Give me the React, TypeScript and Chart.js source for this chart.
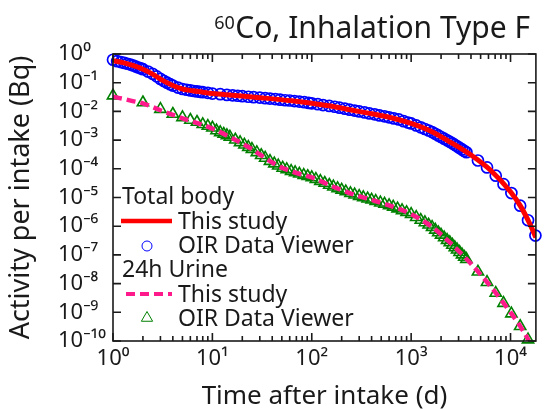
import React, { useEffect, useRef } from 'react';
import { Chart, registerables } from 'chart.js';

Chart.register(...registerables);

const FONT = '"Noto Sans", "Open Sans", sans-serif';
const TEXT = '#1a1a1a';
const RED = '#ff0000';
const BLUE = '#0000ff';
const PINK = '#ff1a8c';
const GREEN = 'rgb(0,128,0)';

// ---- Data (days after intake, activity per intake in Bq) ----
const bodyLineDays = [1, 1.26, 1.58, 2, 2.5, 3.16, 4, 5, 6.3, 8, 10, 16, 32, 63, 100, 160, 250, 400, 630, 1000, 1600, 2500, 4000, 6300, 10000, 12600, 15800, 18000];
const bodyLineValues = [0.589, 0.501, 0.398, 0.295, 0.2, 0.12, 0.0794, 0.0603, 0.0525, 0.0468, 0.0417, 0.0363, 0.0295, 0.0234, 0.0191, 0.0151, 0.0112, 0.00832, 0.00603, 0.0038, 0.002, 0.000832, 0.000302, 8.9e-5, 1.58e-5, 5.0e-6, 1.12e-6, 4.0e-7];

const bodyOirDays = [1, 1.1, 1.2, 1.3, 1.4, 1.5, 1.6, 1.7, 1.8, 1.9, 2, 2.25, 2.5, 2.75, 3, 3.25, 3.5, 3.75, 4, 4.5, 5, 5.5, 6, 6.5, 7, 7.5, 8, 9, 10, 12, 14, 16, 18, 20, 23, 26, 30, 34, 38, 43, 48, 54, 60, 67, 75, 84, 93, 100, 115, 130, 150, 170, 190, 215, 240, 270, 300, 340, 380, 430, 480, 540, 600, 670, 750, 840, 930, 1000, 1125, 1250, 1375, 1500, 1625, 1750, 1875, 2000, 2150, 2300, 2450, 2600, 2750, 2900, 3075, 3250, 3425, 3600, 4700, 5800, 7100, 8500, 10200, 12500, 15000, 17800];
const bodyOirValues = [0.631, 0.562, 0.525, 0.49, 0.457, 0.427, 0.398, 0.363, 0.339, 0.316, 0.295, 0.245, 0.204, 0.166, 0.135, 0.115, 0.1, 0.0891, 0.0794, 0.0676, 0.0603, 0.0569, 0.0537, 0.0513, 0.0495, 0.0479, 0.0468, 0.0442, 0.0417, 0.0398, 0.0376, 0.0363, 0.0351, 0.0339, 0.0324, 0.0313, 0.0302, 0.0288, 0.0279, 0.0269, 0.0257, 0.0245, 0.024, 0.0229, 0.0219, 0.0209, 0.0197, 0.0191, 0.0178, 0.0166, 0.0155, 0.0145, 0.0135, 0.0124, 0.0115, 0.0107, 0.01, 0.00923, 0.00851, 0.00794, 0.00724, 0.00676, 0.00624, 0.00569, 0.00525, 0.00457, 0.00407, 0.0038, 0.00324, 0.00278, 0.00244, 0.00216, 0.0019, 0.00165, 0.00145, 0.00128, 0.00112, 0.000982, 0.000873, 0.000771, 0.000682, 0.000608, 0.000532, 0.000472, 0.00042, 0.000378, 0.000195, 0.000112, 5.74e-5, 2.92e-5, 1.43e-5, 5.19e-6, 1.61e-6, 4.73e-7];

const urineLineDays = [1, 1.26, 1.58, 2, 2.95, 4, 5, 7.2, 10, 15.8, 20, 25, 31.6, 40, 50, 63, 79, 100, 158, 251, 398, 631, 1000, 1585, 2512, 3981, 6310, 10000, 12590, 15140, 16600];
const urineLineValues = [0.0324, 0.0275, 0.0229, 0.0191, 0.0112, 0.00759, 0.00575, 0.0038, 0.00251, 0.00117, 0.000759, 0.000479, 0.000282, 0.000166, 0.00011, 8.1e-5, 6.3e-5, 5.0e-5, 2.51e-5, 1.35e-5, 8.3e-6, 5.0e-6, 2.63e-6, 1.0e-6, 2.51e-7, 5.0e-8, 7.9e-9, 1.0e-9, 3.16e-10, 1.07e-10, 5.0e-11];

const urineOirDays = [1, 2, 3, 4, 5, 6, 7, 8, 9, 10, 11, 12, 13, 14, 15, 17, 19, 21, 23, 25, 28, 31, 34, 38, 42, 46, 51, 56, 62, 68, 75, 83, 91, 100, 110, 122, 135, 150, 165, 182, 200, 220, 245, 270, 300, 330, 365, 400, 440, 490, 540, 600, 660, 730, 810, 900, 1000, 1125, 1250, 1375, 1500, 1625, 1750, 1875, 2000, 2150, 2300, 2450, 2600, 2750, 2900, 3075, 3250, 3425, 3600, 4700, 5800, 7100, 8500, 10200, 12500, 15000];
const urineOirValues = [0.0355, 0.0204, 0.012, 0.00813, 0.00617, 0.00501, 0.00427, 0.00355, 0.00309, 0.00269, 0.00215, 0.00186, 0.00163, 0.00145, 0.00129, 0.00103, 0.000832, 0.000686, 0.00057, 0.000483, 0.000373, 0.000296, 0.000239, 0.000185, 0.000151, 0.000128, 0.000107, 9.5e-5, 8.3e-5, 7.5e-5, 6.7e-5, 6.0e-5, 5.5e-5, 5.0e-5, 4.35e-5, 3.72e-5, 3.2e-5, 2.73e-5, 2.38e-5, 2.08e-5, 1.84e-5, 1.61e-5, 1.4e-5, 1.25e-5, 1.12e-5, 1.01e-5, 9.1e-6, 8.3e-6, 7.5e-6, 6.6e-6, 5.96e-6, 5.3e-6, 4.7e-6, 4.09e-6, 3.54e-6, 3.05e-6, 2.63e-6, 2.06e-6, 1.64e-6, 1.35e-6, 1.12e-6, 9.27e-7, 7.43e-7, 6.04e-7, 4.98e-7, 4.02e-7, 3.27e-7, 2.71e-7, 2.22e-7, 1.83e-7, 1.52e-7, 1.24e-7, 1.02e-7, 8.46e-8, 7.14e-8, 2.58e-8, 1.12e-8, 4.68e-9, 2.09e-9, 9.0e-10, 3.27e-10, 1.12e-10];

const xTickValues = [1, 10, 100, 1000, 10000];
const yTickValues = [1e-10, 1e-9, 1e-8, 1e-7, 1e-6, 1e-5, 1e-4, 1e-3, 1e-2, 1e-1, 1];
const xMin = 1;
const xMax = 18000;
const yMin = 1e-10;
const yMax = 1;

const titleMain = 'Co, Inhalation Type F';
const titleSup = '60';
const xTitle = 'Time after intake (d)';
const yTitle = 'Activity per intake (Bq)';
const legendGroup1 = 'Total body';
const legendGroup2 = '24h Urine';
const legendLine = 'This study';
const legendOir = 'OIR Data Viewer';

const SUP: Record<string, string> = {
  '0': '\u2070', '1': '\u00b9', '2': '\u00b2', '3': '\u00b3', '4': '\u2074',
  '5': '\u2075', '6': '\u2076', '7': '\u2077', '8': '\u2078', '9': '\u2079', '-': '\u207b',
};
const pow10Label = (v: number) => {
  const e = Math.round(Math.log10(v));
  return '10' + String(e).split('').map((c) => SUP[c]).join('');
};
const zip = (xs: number[], ys: number[]) => xs.map((x, i) => ({ x, y: ys[i] }));

const framePlugin = {
  id: 'frameTicks',
  afterDatasetsDraw(chart: any) {
    const { ctx, chartArea } = chart;
    const { left, right, top, bottom } = chartArea;
    const xs = chart.scales.x;
    const ys = chart.scales.y;
    ctx.save();
    ctx.strokeStyle = TEXT;
    ctx.lineWidth = 1.6;
    ctx.strokeRect(left, top, right - left, bottom - top);
    ctx.beginPath();
    for (const d of xTickValues) {
      for (let m = 1; m <= 9; m++) {
        const v = d * m;
        if (v > xMax) break;
        const px = xs.getPixelForValue(v);
        const len = m === 1 ? 8 : 5;
        ctx.moveTo(px, bottom);
        ctx.lineTo(px, bottom - len);
        ctx.moveTo(px, top);
        ctx.lineTo(px, top + len);
      }
    }
    for (const v of yTickValues) {
      const py = ys.getPixelForValue(v);
      ctx.moveTo(left, py);
      ctx.lineTo(left + 8, py);
      ctx.moveTo(right, py);
      ctx.lineTo(right - 8, py);
    }
    ctx.stroke();
    ctx.restore();
  },
};

const overlayPlugin = {
  id: 'overlay',
  afterDraw(chart: any) {
    const ctx: CanvasRenderingContext2D = chart.ctx;
    ctx.save();
    ctx.fillStyle = TEXT;
    ctx.textAlign = 'left';
    ctx.textBaseline = 'alphabetic';
    // title
    ctx.font = `30px ${FONT}`;
    const w = ctx.measureText(titleMain).width;
    const xEnd = 530;
    ctx.fillText(titleMain, xEnd - w, 37.5);
    ctx.font = `18px ${FONT}`;
    const sw = ctx.measureText(titleSup).width;
    ctx.fillText(titleSup, xEnd - w - sw - 0.5, 29);

    // legend
    ctx.font = `23px ${FONT}`;
    ctx.fillText(legendGroup1, 122, 204);
    ctx.fillText(legendLine, 178, 229);
    ctx.fillText(legendOir, 178, 253);
    ctx.fillText(legendGroup2, 122, 277);
    ctx.fillText(legendLine, 178, 302);
    ctx.fillText(legendOir, 178, 326);

    ctx.lineCap = 'butt';
    ctx.strokeStyle = RED;
    ctx.lineWidth = 4.5;
    ctx.beginPath();
    ctx.moveTo(121, 221);
    ctx.lineTo(172, 221);
    ctx.stroke();

    ctx.strokeStyle = BLUE;
    ctx.lineWidth = 1;
    ctx.beginPath();
    ctx.arc(147, 246, 5, 0, Math.PI * 2);
    ctx.stroke();

    ctx.strokeStyle = PINK;
    ctx.lineWidth = 4;
    ctx.setLineDash([9, 5]);
    ctx.beginPath();
    ctx.moveTo(126, 294);
    ctx.lineTo(172, 294);
    ctx.stroke();
    ctx.setLineDash([]);

    ctx.strokeStyle = GREEN;
    ctx.lineWidth = 1;
    const r = 6.5;
    const cx = 147;
    const cy = 318;
    ctx.beginPath();
    ctx.moveTo(cx, cy - r);
    ctx.lineTo(cx + r * Math.sin(Math.PI * 2 / 3), cy - r * Math.cos(Math.PI * 2 / 3));
    ctx.lineTo(cx - r * Math.sin(Math.PI * 2 / 3), cy - r * Math.cos(Math.PI * 2 / 3));
    ctx.closePath();
    ctx.stroke();
    ctx.restore();
  },
};

export default function App() {
  const ref = useRef<HTMLCanvasElement>(null);
  useEffect(() => {
    const canvas = ref.current;
    if (!canvas) return;
    Chart.defaults.font.family = FONT;
    const tickFont = { size: 22, family: FONT };
    const chart = new Chart(canvas, {
      type: 'line',
      data: {
        datasets: [
          {
            label: 'Total body - This study',
            data: zip(bodyLineDays, bodyLineValues),
            borderColor: RED,
            borderWidth: 5,
            pointRadius: 0,
            cubicInterpolationMode: 'monotone',
            fill: false,
            order: 1,
          },
          {
            label: 'Total body - OIR Data Viewer',
            data: zip(bodyOirDays, bodyOirValues),
            showLine: false,
            pointStyle: 'circle',
            pointRadius: 5.5,
            pointBorderWidth: 1.7,
            pointBorderColor: BLUE,
            pointBackgroundColor: 'rgba(0,0,0,0)',
            borderColor: BLUE,
            order: 3,
            clip: false,
          },
          {
            label: '24h Urine - This study',
            data: zip(urineLineDays, urineLineValues),
            borderColor: PINK,
            borderWidth: 4.5,
            borderDash: [9, 5],
            pointRadius: 0,
            cubicInterpolationMode: 'monotone',
            fill: false,
            order: 0,
          },
          {
            label: '24h Urine - OIR Data Viewer',
            data: zip(urineOirDays, urineOirValues),
            showLine: false,
            pointStyle: 'triangle',
            pointRadius: 6.5,
            pointBorderWidth: 1.6,
            pointBorderColor: GREEN,
            pointBackgroundColor: 'rgba(0,0,0,0)',
            borderColor: GREEN,
            order: 2,
            clip: false,
          },
        ] as any,
      },
      options: {
        responsive: false,
        animation: false,
        devicePixelRatio: 1,
        events: [],
        layout: { padding: { top: 54, right: 2, left: 0, bottom: 0 } },
        plugins: {
          legend: { display: false },
          tooltip: { enabled: false },
          title: { display: false },
        },
        scales: {
          x: {
            type: 'logarithmic',
            min: xMin,
            max: xMax,
            afterBuildTicks: (s: any) => {
              s.ticks = xTickValues.map((v) => ({ value: v }));
            },
            afterFit: (s: any) => {
              s.height = 68;
            },
            ticks: {
              autoSkip: false,
              maxRotation: 0,
              font: tickFont,
              color: TEXT,
              padding: 5,
              callback: (v: any) => pow10Label(Number(v)),
            },
            grid: { display: false, drawTicks: false },
            border: { display: false },
            title: {
              display: true,
              text: xTitle,
              font: { size: 26, family: FONT },
              color: TEXT,
              padding: { top: 0, bottom: -3 },
            },
          },
          y: {
            type: 'logarithmic',
            position: 'left',
            min: yMin,
            max: yMax,
            weight: 0,
            afterBuildTicks: (s: any) => {
              s.ticks = yTickValues.map((v) => ({ value: v }));
            },
            afterFit: (s: any) => {
              s.width = 55;
            },
            ticks: {
              autoSkip: false,
              font: tickFont,
              color: TEXT,
              padding: 4,
              crossAlign: 'far',
              callback: (v: any) => pow10Label(Number(v)),
            },
            grid: { display: false, drawTicks: false },
            border: { display: false },
          },
          yTitle: {
            type: 'linear',
            position: 'left',
            weight: 1,
            afterFit: (s: any) => {
              s.width = 58;
            },
            ticks: { display: false },
            grid: { display: false, drawTicks: false },
            border: { display: false },
            title: {
              display: true,
              text: yTitle,
              font: { size: 27, family: FONT },
              color: TEXT,
              padding: { top: 5, bottom: 0 },
            },
          },
        },
      } as any,
      plugins: [framePlugin, overlayPlugin],
    });
    return () => chart.destroy();
  }, []);

  return (
    <div style={{ position: 'absolute', left: 0, top: 0, width: 544, height: 409, background: '#fff' }}>
      <canvas ref={ref} width={544} height={409} style={{ display: 'block', width: 544, height: 409 }} />
    </div>
  );
}
